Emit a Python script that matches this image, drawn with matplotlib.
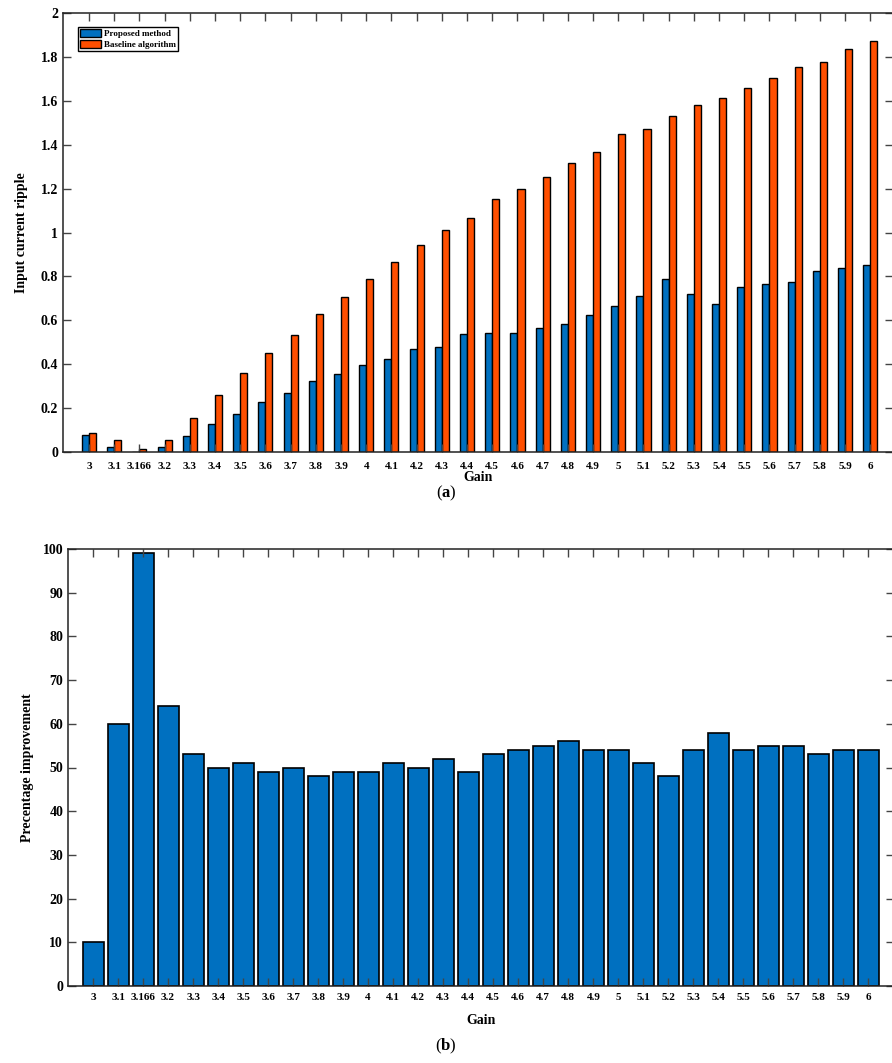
import matplotlib.pyplot as plt
import numpy as np

plt.rcParams['font.family'] = ['Liberation Serif', 'DejaVu Serif']
plt.rcParams['font.weight'] = 'bold'
plt.rcParams['mathtext.fontset'] = 'custom'
plt.rcParams['mathtext.rm'] = 'Liberation Serif'
plt.rcParams['mathtext.bf'] = 'Liberation Serif:bold'

# data
gain_labels = ['3', '3.1', '3.166', '3.2', '3.3', '3.4', '3.5', '3.6', '3.7', '3.8', '3.9',
               '4', '4.1', '4.2', '4.3', '4.4', '4.5', '4.6', '4.7', '4.8', '4.9',
               '5', '5.1', '5.2', '5.3', '5.4', '5.5', '5.6', '5.7', '5.8', '5.9', '6']
proposed = [0.077, 0.023, 0.0, 0.021, 0.073, 0.129, 0.175, 0.229, 0.269, 0.323, 0.355,
            0.396, 0.425, 0.468, 0.478, 0.539, 0.543, 0.543, 0.563, 0.582, 0.626,
            0.666, 0.712, 0.786, 0.718, 0.674, 0.750, 0.764, 0.776, 0.824, 0.839, 0.852]
baseline = [0.087, 0.055, 0.014, 0.053, 0.155, 0.258, 0.358, 0.452, 0.535, 0.627, 0.708,
            0.790, 0.866, 0.943, 1.013, 1.065, 1.154, 1.197, 1.254, 1.318, 1.365,
            1.449, 1.471, 1.533, 1.583, 1.614, 1.659, 1.705, 1.755, 1.779, 1.836, 1.872]
improvement = [10, 60, 99, 64, 53, 50, 51, 49, 50, 48, 49,
               49, 51, 50, 52, 49, 53, 54, 55, 56, 54,
               54, 51, 48, 54, 58, 54, 55, 55, 53, 54, 54]

blue = '#0070C0'
orange = '#FF4F00'
W, H = 892, 1063

fig = plt.figure(figsize=(W / 100, H / 100), dpi=100)
x = np.arange(len(gain_labels))


def style_axes(ax):
    for s in ax.spines.values():
        s.set_linewidth(1.1)
        s.set_color('#222222')
    ax.tick_params(direction='in', top=True, right=True, length=6, width=1.0,
                   color='#444444')


# (a) input current ripple
ax1 = fig.add_axes([63 / W, 1 - 452 / H, (893 - 63) / W, (452 - 13) / H])
bw = 0.28
ax1.bar(x - bw / 2, proposed, bw, color=blue, edgecolor='black', linewidth=1.0,
        label='Proposed method')
ax1.bar(x + bw / 2, baseline, bw, color=orange, edgecolor='black', linewidth=1.0,
        label='Baseline algorithm')
ax1.set_xlim(-1.03, 31.9)
ax1.set_ylim(0, 2)
ax1.set_yticks(np.arange(0, 2.01, 0.2))
ax1.set_yticklabels([f'{v:g}' for v in np.arange(0, 2.01, 0.2).round(1)], fontsize=10)
ax1.set_xticks(x)
ax1.set_xticklabels(gain_labels, fontsize=8)
ax1.set_ylabel('Input current ripple', fontsize=10, fontweight='bold', labelpad=9)
ax1.set_xlabel('Gain', fontsize=10, fontweight='bold', labelpad=0)
style_axes(ax1)
ax1.tick_params(axis='x', pad=7)
leg = ax1.legend(loc='upper left', bbox_to_anchor=(0.018, 0.968), borderaxespad=0,
                 prop={'weight': 'bold', 'size': 6.5}, fancybox=False,
                 framealpha=1, edgecolor='black', handlelength=2.3, handleheight=1.0,
                 handletextpad=0.3, borderpad=0.25, labelspacing=0.15)
leg.get_frame().set_linewidth(1.0)

# (b) percentage improvement
ax2 = fig.add_axes([68 / W, 1 - 986 / H, (893.5 - 68) / W, (986 - 549) / H])
ax2.bar(x, improvement, 0.84, color=blue, edgecolor='black', linewidth=1.2)
ax2.set_xlim(-1, 32)
ax2.set_ylim(0, 100)
ax2.set_yticks(np.arange(0, 101, 10))
ax2.set_yticklabels([str(v) for v in range(0, 101, 10)], fontsize=10)
ax2.set_xticks(x)
ax2.set_xticklabels(gain_labels, fontsize=8)
ax2.set_ylabel('Precentage improvement', fontsize=10, fontweight='bold', labelpad=6)
ax2.set_xlabel('Gain', fontsize=10, fontweight='bold', labelpad=8.5)
style_axes(ax2)
ax2.tick_params(axis='x', pad=5)

fig.text(0.5, 1 - 493 / H, r'($\mathbf{a}$)', ha='center', va='center', fontsize=12,
         fontweight='normal')
fig.text(0.5, 1 - 1046 / H, r'($\mathbf{b}$)', ha='center', va='center', fontsize=12,
         fontweight='normal')

fig.savefig('out.png', dpi=100)
